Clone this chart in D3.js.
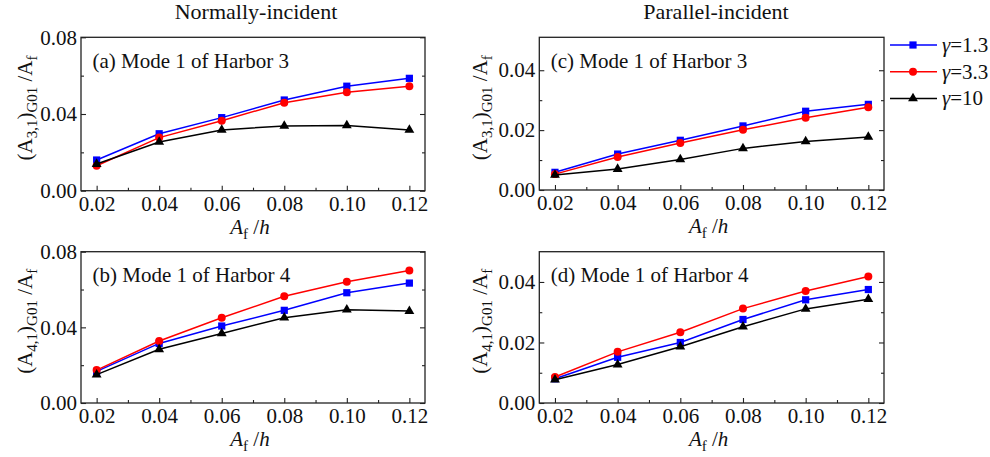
<!DOCTYPE html>
<html>
<head>
<meta charset="utf-8">
<script src="https://cdn.jsdelivr.net/npm/d3@7"></script>
<style>
  body { margin: 0; background: #fff; }
  text { font-family: "Liberation Serif", "Times New Roman", serif; fill: #111; }
</style>
</head>
<body>
<svg id="chart" width="990" height="457"></svg>
<script>
// Relative wave amplitude Af/h on the x axis
const afh = [0.02, 0.04, 0.06, 0.08, 0.10, 0.12];
const xTickValues = [0.02, 0.04, 0.06, 0.08, 0.10, 0.12];
const xTickLabels = ["0.02", "0.04", "0.06", "0.08", "0.10", "0.12"];
const xMinorTicks = [0.03, 0.05, 0.07, 0.09, 0.11];

// Peak enhancement factors
const gammas = ["1.3", "3.3", "10"];
const seriesColors = ["#0000ff", "#ff0000", "#000000"];
const seriesMarkers = ["square", "circle", "triangle"];

// Normally-incident, Harbor 3 (a)
const a_g13 = [0.0160, 0.0297, 0.0381, 0.0473, 0.0545, 0.0586];
const a_g33 = [0.0130, 0.0277, 0.0365, 0.0459, 0.0513, 0.0545];
const a_g10 = [0.0139, 0.0254, 0.0317, 0.0338, 0.0340, 0.0317];
// Normally-incident, Harbor 4 (b)
const b_g13 = [0.0167, 0.0315, 0.0407, 0.0490, 0.0583, 0.0634];
const b_g33 = [0.0174, 0.0328, 0.0451, 0.0564, 0.0641, 0.0701];
const b_g10 = [0.0150, 0.0284, 0.0368, 0.0451, 0.0493, 0.0486];
// Parallel-incident, Harbor 3 (c)
const c_g13 = [0.0059, 0.0120, 0.0166, 0.0214, 0.0263, 0.0286];
const c_g33 = [0.0053, 0.0110, 0.0157, 0.0201, 0.0241, 0.0276];
const c_g10 = [0.0050, 0.0070, 0.0102, 0.0139, 0.0162, 0.0177];
// Parallel-incident, Harbor 4 (d)
const d_g13 = [0.0080, 0.0151, 0.0200, 0.0276, 0.0341, 0.0375];
const d_g33 = [0.0086, 0.0169, 0.0234, 0.0312, 0.0370, 0.0418];
const d_g10 = [0.0077, 0.0127, 0.0186, 0.0252, 0.0311, 0.0343];

// y-axis tick sets
const yTicksNormal = [0, 0.04, 0.08];
const yTickLabelsNormal = ["0.00", "0.04", "0.08"];
const yMinorNormal = [0.02, 0.06];
const yTicksParallel = [0, 0.02, 0.04];
const yTickLabelsParallel = ["0.00", "0.02", "0.04"];
const yMinorParallel = [0.01, 0.03];

const columnTitles = ["Normally-incident", "Parallel-incident"];

const panels = [
  { label: "(a) Mode 1 of Harbor 3", idx: "3,1", series: [a_g13, a_g33, a_g10],
    box: [81, 37.3, 425, 190.7], yMax: 0.08,
    yTicks: yTicksNormal, yLabels: yTickLabelsNormal, yMinor: yMinorNormal },
  { label: "(b) Mode 1 of Harbor 4", idx: "4,1", series: [b_g13, b_g33, b_g10],
    box: [81, 251.7, 425, 403], yMax: 0.08,
    yTicks: yTicksNormal, yLabels: yTickLabelsNormal, yMinor: yMinorNormal },
  { label: "(c) Mode 1 of Harbor 3", idx: "3,1", series: [c_g13, c_g33, c_g10],
    box: [539.3, 37.3, 884, 190], yMax: 0.051,
    yTicks: yTicksParallel, yLabels: yTickLabelsParallel, yMinor: yMinorParallel },
  { label: "(d) Mode 1 of Harbor 4", idx: "4,1", series: [d_g13, d_g33, d_g10],
    box: [539.3, 251.7, 884, 403], yMax: 0.05,
    yTicks: yTicksParallel, yLabels: yTickLabelsParallel, yMinor: yMinorParallel }
];

const svg = d3.select("#chart");
const FS = 21;

function symbolFor(kind) {
  if (kind === "square") return d3.symbol(d3.symbolSquare, 52);
  if (kind === "circle") return d3.symbol(d3.symbolCircle, 50);
  return d3.symbol(d3.symbolTriangle, 42);
}

function drawPanel(p) {
  const [x0, y0, x1, y1] = p.box;
  const x = d3.scaleLinear().domain([0.015, 0.125]).range([x0, x1]);
  const y = d3.scaleLinear().domain([0, p.yMax]).range([y1, y0]);
  const g = svg.append("g");

  // bottom axis: inward major + minor ticks
  const xAxis = d3.axisBottom(x).tickValues(xTickValues)
    .tickFormat((d, i) => xTickLabels[i]).tickSize(-5).tickPadding(5);
  const gx = g.append("g").attr("transform", `translate(0,${y1})`).call(xAxis);
  gx.select(".domain").remove();
  gx.selectAll("text").attr("font-size", FS);
  g.append("g").attr("transform", `translate(0,${y1})`)
    .call(d3.axisBottom(x).tickValues(xMinorTicks).tickFormat("").tickSize(-3))
    .call(s => s.select(".domain").remove());

  // left axis
  const yAxis = d3.axisLeft(y).tickValues(p.yTicks)
    .tickFormat((d, i) => p.yLabels[i]).tickSize(-5).tickPadding(4);
  const gy = g.append("g").attr("transform", `translate(${x0},0)`).call(yAxis);
  gy.select(".domain").remove();
  gy.selectAll("text").attr("font-size", FS);
  g.append("g").attr("transform", `translate(${x0},0)`)
    .call(d3.axisLeft(y).tickValues(p.yMinor).tickFormat("").tickSize(-3))
    .call(s => s.select(".domain").remove());

  // mirrored right axis
  g.append("g").attr("transform", `translate(${x1},0)`)
    .call(d3.axisRight(y).tickValues(p.yTicks).tickFormat("").tickSize(-5))
    .call(s => s.select(".domain").remove());
  g.append("g").attr("transform", `translate(${x1},0)`)
    .call(d3.axisRight(y).tickValues(p.yMinor).tickFormat("").tickSize(-3))
    .call(s => s.select(".domain").remove());

  g.selectAll(".tick line").attr("stroke", "#222").attr("stroke-width", 1.1);

  // frame
  g.append("rect").attr("x", x0).attr("y", y0)
    .attr("width", x1 - x0).attr("height", y1 - y0)
    .attr("fill", "none").attr("stroke", "#222").attr("stroke-width", 1.3);

  // series
  const line = d3.line().x((d, i) => x(afh[i])).y(d => y(d));
  p.series.forEach((vals, s) => {
    g.append("path").datum(vals).attr("d", line)
      .attr("fill", "none").attr("stroke", seriesColors[s]).attr("stroke-width", 1.5);
    g.selectAll(null).data(vals).enter().append("path")
      .attr("d", symbolFor(seriesMarkers[s]))
      .attr("transform", (d, i) => `translate(${x(afh[i])},${y(d)})`)
      .attr("fill", seriesColors[s]);
  });

  // panel label
  g.append("text").attr("x", x0 + 11.5).attr("y", y0 + 30.5)
    .attr("font-size", FS).text(p.label);

  // x-axis title: A_f / h
  const xt = g.append("text").attr("x", (x0 + x1) / 2 - 3).attr("y", y1 + 43)
    .attr("font-size", FS).attr("text-anchor", "middle");
  xt.append("tspan").attr("font-style", "italic").text("A");
  xt.append("tspan").attr("font-size", 15).attr("dy", 5).text("f");
  xt.append("tspan").attr("dy", -5).text(" /");
  xt.append("tspan").attr("font-style", "italic").text("h");

  // y-axis title: (A_{i,1})_{G01} / A_f
  const yc = (y0 + y1) / 2 - 6;
  const tx = x0 < 300 ? 32 : 487;
  const yt = g.append("text").attr("transform", `translate(${tx},${yc}) rotate(-90)`)
    .attr("font-size", FS).attr("text-anchor", "middle");
  yt.append("tspan").text("(A");
  yt.append("tspan").attr("font-size", 15).attr("dy", 5).text(p.idx);
  yt.append("tspan").attr("dy", -5).text(")");
  yt.append("tspan").attr("font-size", 15).attr("dy", 5).text("G01");
  yt.append("tspan").attr("dy", -5).text(" /A");
  yt.append("tspan").attr("font-size", 15).attr("dy", 5).text("f");
}

panels.forEach(drawPanel);

// column titles
svg.append("text").attr("x", 256).attr("y", 19).attr("text-anchor", "middle")
  .attr("font-size", 22).text(columnTitles[0]);
svg.append("text").attr("x", 716).attr("y", 19).attr("text-anchor", "middle")
  .attr("font-size", 22).text(columnTitles[1]);

// legend
const legend = svg.append("g");
gammas.forEach((gm, s) => {
  const ly = 45 + s * 26.7;
  legend.append("line").attr("x1", 890).attr("x2", 937).attr("y1", ly).attr("y2", ly)
    .attr("stroke", seriesColors[s]).attr("stroke-width", 1.5);
  legend.append("path").attr("d", symbolFor(seriesMarkers[s]))
    .attr("transform", `translate(913,${ly})`).attr("fill", seriesColors[s]);
  const t = legend.append("text").attr("x", 942).attr("y", ly + 7).attr("font-size", FS);
  t.append("tspan").attr("font-style", "italic").text("γ");
  t.append("tspan").text("=" + gm);
});
</script>
</body>
</html>
